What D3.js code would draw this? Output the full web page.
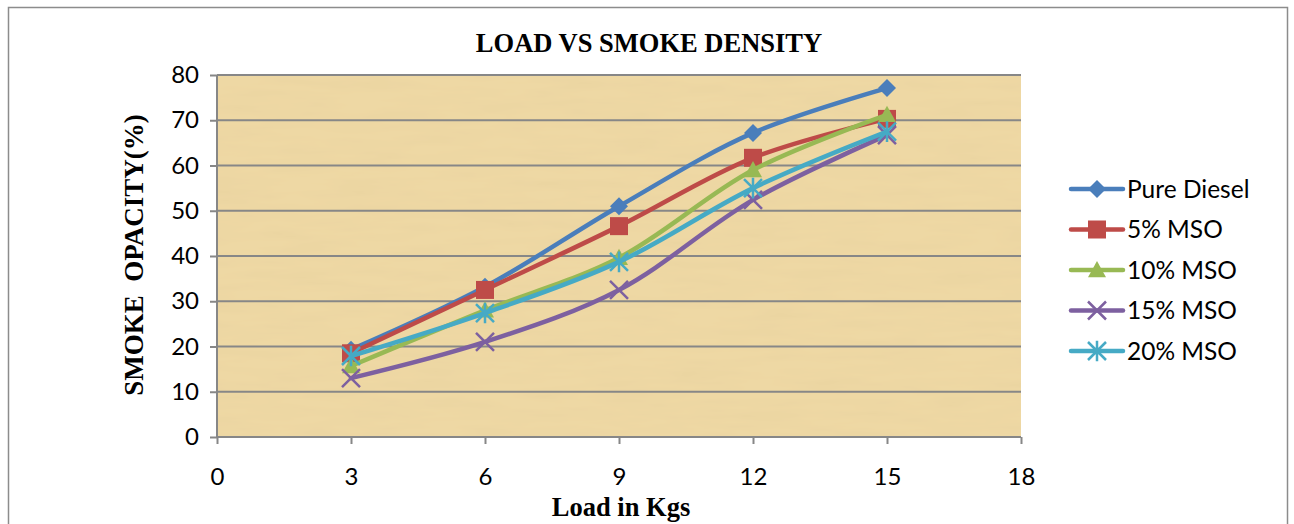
<!DOCTYPE html>
<html><head><meta charset="utf-8">
<script src="https://cdn.jsdelivr.net/npm/d3@7"></script>
<style>body{margin:0;background:#fff}svg{display:block}</style>
</head><body>
<svg id="c" width="1294" height="524"></svg>
<script>
const loads = [3, 6, 9, 12, 15];
const seriesNames = ["Pure Diesel", "5% MSO", "10% MSO", "15% MSO", "20% MSO"];
const pureDiesel = [19.3, 33.2, 51, 67.2, 77.1];
const mso5 = [18.5, 32.5, 46.6, 61.7, 70.3];
const mso10 = [15.7, 28, 39.6, 59, 71.2];
const mso15 = [13, 21, 32.5, 52.4, 66.7];
const mso20 = [17.9, 27.4, 38.7, 55, 67.5];
const xTicks = [0, 3, 6, 9, 12, 15, 18];
const yTicks = [0, 10, 20, 30, 40, 50, 60, 70, 80];
const colors = ["#4a7ebb", "#be4b48", "#98b954", "#7d60a0", "#46aac5"];
const markers = ["diamond", "square", "triangle", "x", "star"];
const allSeries = [pureDiesel, mso5, mso10, mso15, mso20];

const svg = d3.select("#c");
const L = 217, R = 1021, T = 75, B = 437;
const x = d3.scaleLinear().domain([0, 18]).range([L, R]);
const y = d3.scaleLinear().domain([0, 80]).range([B, T]);
const sans = "Lato, 'Open Sans', sans-serif";
const serif = "'Liberation Serif', 'Times New Roman', serif";

// outer frame
svg.append("rect").attr("x", 8.5).attr("y", 7.5).attr("width", 1279).attr("height", 530)
  .attr("fill", "#fff").attr("stroke", "#8c8c8c").attr("stroke-width", 1.5);

// papyrus texture
const defs = svg.append("defs");
const f = defs.append("filter").attr("id", "pap").attr("x", 0).attr("y", 0).attr("width", 1).attr("height", 1);
f.append("feTurbulence").attr("type", "fractalNoise").attr("baseFrequency", "0.015 0.1").attr("numOctaves", 3).attr("seed", 4).attr("result", "n");
f.append("feColorMatrix").attr("in", "n").attr("type", "matrix")
  .attr("values", "0 0 0 0 0.80  0 0 0 0 0.64  0 0 0 0 0.34  0.9 0 0 0 -0.33").attr("result", "c");
f.append("feComposite").attr("in", "c").attr("in2", "SourceGraphic").attr("operator", "over");
svg.append("rect").attr("x", L).attr("y", T).attr("width", R - L).attr("height", B - T)
  .attr("fill", "#eed8a4").attr("filter", "url(#pap)");

// gridlines
svg.append("g").selectAll("line").data(yTicks.filter(d => d > 0)).join("line")
  .attr("x1", L).attr("x2", R).attr("y1", d => y(d)).attr("y2", d => y(d))
  .attr("stroke", "#878787").attr("stroke-width", 2);

// axes
const yAxis = svg.append("g").attr("transform", `translate(${L},0)`)
  .call(d3.axisLeft(y).tickValues(yTicks).tickSize(7).tickPadding(11));
const xAxis = svg.append("g").attr("transform", `translate(0,${B})`)
  .call(d3.axisBottom(x).tickValues(xTicks).tickSize(7).tickPadding(24));
[yAxis, xAxis].forEach(a => {
  a.select(".domain").attr("stroke", "#878787").attr("stroke-width", 2);
  a.selectAll(".tick line").attr("stroke", "#878787").attr("stroke-width", 2);
  a.selectAll("text").attr("font-family", sans).attr("font-size", 24).attr("fill", "#000");
});
yAxis.select(".domain").attr("d", `M0,${B}V${T}`);
xAxis.select(".domain").attr("d", `M${L},0H${R}`);

// marker symbol
function marker(g, type, color, s) {
  if (type === "diamond") g.append("path").attr("d", `M0,${-s}L${s},0L0,${s}L${-s},0Z`).attr("fill", color);
  else if (type === "square") g.append("rect").attr("x", -s).attr("y", -s).attr("width", s * 2).attr("height", s * 2).attr("fill", color);
  else if (type === "triangle") g.append("path").attr("d", `M0,${-s}L${s},${s * 0.8}L${-s},${s * 0.8}Z`).attr("fill", color);
  else if (type === "x") g.append("path").attr("d", `M${-s},${-s}L${s},${s}M${-s},${s}L${s},${-s}`).attr("stroke", color).attr("stroke-width", 2.5);
  else g.append("path").attr("d", `M${-s},${-s}L${s},${s}M${-s},${s}L${s},${-s}M0,${-s * 1.15}V${s * 1.15}`).attr("stroke", color).attr("stroke-width", 2.5);
}

const line = d3.line().x((d, i) => x(loads[i])).y(d => y(d)).curve(d3.curveCatmullRom.alpha(0.5));
allSeries.forEach((vals, k) => {
  svg.append("path").attr("d", line(vals)).attr("fill", "none").attr("stroke", colors[k])
    .attr("stroke-width", 4.5).attr("stroke-linejoin", "round").attr("stroke-linecap", "round");
  vals.forEach((v, i) => {
    const g = svg.append("g").attr("transform", `translate(${x(loads[i])},${y(v)})`);
    marker(g, markers[k], colors[k], 9);
  });
});

// legend
const lg = svg.append("g");
seriesNames.forEach((n, k) => {
  const yy = 189 + k * 40.5;
  lg.append("line").attr("x1", 1071).attr("x2", 1123).attr("y1", yy).attr("y2", yy)
    .attr("stroke", colors[k]).attr("stroke-width", 4.5).attr("stroke-linecap", "round");
  const g = lg.append("g").attr("transform", `translate(1097,${yy})`);
  marker(g, markers[k], colors[k], 9);
  lg.append("text").attr("x", 1127).attr("y", yy).attr("dy", "0.36em").text(n)
    .attr("font-family", sans).attr("font-size", 24.5).attr("fill", "#000");
});

// titles
svg.append("text").attr("x", 649).attr("y", 52).attr("text-anchor", "middle")
  .attr("font-family", serif).attr("font-weight", "bold").attr("font-size", 26.5)
  .text("LOAD VS SMOKE DENSITY");
svg.append("text").attr("transform", "translate(143,255) rotate(-90)").attr("text-anchor", "middle")
  .attr("font-family", serif).attr("font-weight", "bold").attr("font-size", 27)
  .attr("xml:space", "preserve").text("SMOKE  OPACITY(%)");
svg.append("text").attr("x", 621).attr("y", 516).attr("text-anchor", "middle")
  .attr("font-family", serif).attr("font-weight", "bold").attr("font-size", 26.5)
  .text("Load in Kgs");
</script>
</body></html>
